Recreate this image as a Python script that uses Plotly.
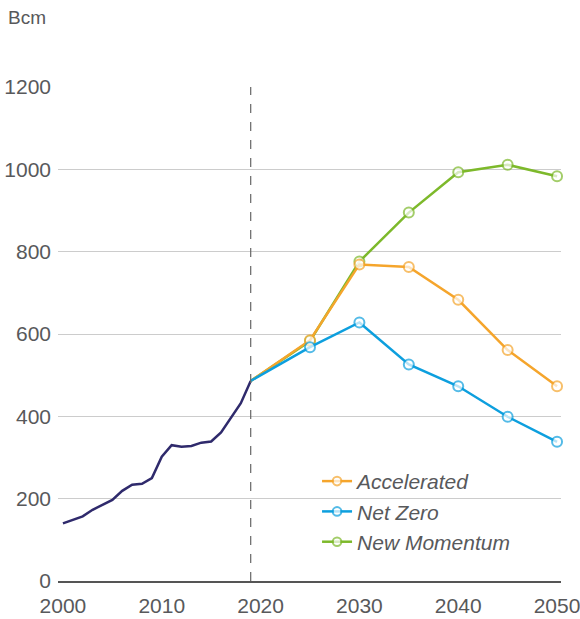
import plotly.graph_objects as go

# Historic data (Bcm)
hist_years = list(range(2000, 2020))
hist_values = [140, 148, 157, 173, 184, 197, 219, 234, 236, 250,
               302, 330, 326, 328, 336, 339, 361, 395, 432, 486]

# Scenario projections
scen_years = [2019, 2025, 2030, 2035, 2040, 2045, 2050]
accelerated = [486, 585, 769, 763, 683, 561, 473]
net_zero = [486, 568, 628, 526, 473, 399, 338]
new_momentum = [486, 583, 776, 895, 993, 1011, 983]

x_ticks = [2000, 2010, 2020, 2030, 2040, 2050]
y_ticks = [0, 200, 400, 600, 800, 1000, 1200]

text_color = "#58595b"
font_family = "Liberation Sans, Arial, sans-serif"

fig = go.Figure()

# Historic line
fig.add_trace(go.Scatter(
    x=hist_years, y=hist_values,
    mode="lines",
    line=dict(color="#2f2a6c", width=2.5),
    showlegend=False,
    cliponaxis=False,
))


def scenario(name, values, color, rank):
    # no marker at the 2019 starting point
    sizes = [0] + [10] * (len(values) - 1)
    return go.Scatter(
        x=scen_years, y=values,
        mode="lines+markers",
        name=name,
        legendgroup=name,
        legendrank=rank,
        line=dict(color=color, width=2.5),
        marker=dict(symbol="circle", size=sizes, color="white",
                    line=dict(color=color, width=2)),
        cliponaxis=False,
    )


fig.add_trace(scenario("New Momentum", new_momentum, "#7db92b", 3))
fig.add_trace(scenario("Accelerated", accelerated, "#f5a52c", 1))
fig.add_trace(scenario("Net Zero", net_zero, "#0d9fde", 2))

# Dashed divider between history and projections
fig.add_shape(type="line", x0=2019, x1=2019, y0=0, y1=1200,
              xref="x", yref="y",
              line=dict(color="#666666", width=1.2, dash="dash"))

fig.add_annotation(text="Bcm", xref="paper", yref="paper",
                   x=-0.103, y=1.14, xanchor="left", yanchor="middle",
                   showarrow=False, font=dict(size=19, color=text_color))

fig.update_layout(
    width=580, height=619,
    margin=dict(l=58, r=19, t=87, b=38),
    plot_bgcolor="white",
    paper_bgcolor="white",
    font=dict(family=font_family, size=21, color=text_color),
    legend=dict(
        x=0.515, y=0.243, xanchor="left", yanchor="top",
        font=dict(size=21, color=text_color, style="italic"),
        tracegroupgap=0,
        bgcolor="rgba(0,0,0,0)",
    ),
    xaxis=dict(
        range=[1999.5, 2050.4],
        tickvals=x_ticks,
        showgrid=False,
        zeroline=False,
        showline=True, linecolor="#555555", linewidth=2,
        ticks="",
        ticklabelstandoff=5,
        ticklabeloverflow="allow",
        automargin=False,
    ),
    yaxis=dict(
        range=[0, 1200],
        tickvals=y_ticks,
        showgrid=True, gridcolor="#cccccc", gridwidth=1,
        zeroline=False,
        showline=False,
        ticks="",
        ticklabelstandoff=6,
        ticklabeloverflow="allow",
        automargin=False,
    ),
)

# drop the default 8px body margin so the figure fills the window exactly
fig.write_html("out.html", config={"displayModeBar": False},
               post_script="document.body.style.margin='0';")
